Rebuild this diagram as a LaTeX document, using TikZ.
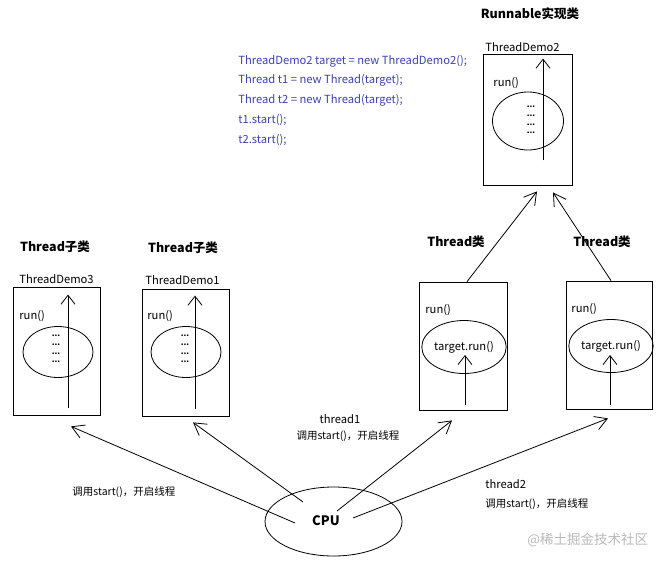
\documentclass[tikz,border=0pt]{standalone}
\usepackage{fontspec}
\setmainfont{Noto Sans CJK SC}
\usetikzlibrary{positioning,arrows.meta,calc,shapes.geometric}
\definecolor{codeblue}{RGB}{60,64,180}
\definecolor{markgray}{RGB}{185,185,185}

\begin{document}
\begin{tikzpicture}[x=1pt,y=-1pt,line width=0.8pt,
  classbox/.style={draw,rectangle,minimum width=87pt,minimum height=128pt,inner sep=0pt},
  runoval/.style={draw,ellipse,minimum width=70pt,minimum height=52pt,inner sep=0pt},
  title/.style={font=\fontsize{12.5}{14}\selectfont\bfseries},
  label/.style={font=\fontsize{11.2}{13}\selectfont,anchor=west,inner sep=0pt},
  note/.style={font=\fontsize{10.5}{12}\selectfont,inner sep=0pt},
  code/.style={font=\fontsize{11.2}{13}\selectfont,text=codeblue,anchor=west,inner sep=0pt},
  dots/.style={font=\fontsize{8}{8.7}\selectfont\bfseries,align=center,inner sep=0pt},
  flow/.style={-{Straight Barb[length=9pt,width=14pt]}},
  call/.style={-{Straight Barb[length=12pt,width=14pt]}}]
\useasboundingbox (0,0) rectangle (667,563);

% Thread subclasses
\node[title] (t3) at (55,247) {Thread子类};
\node[label] (n3) at (19,279) {ThreadDemo3};
\node[classbox] (td3) at (56.5,351) {};
\node[label] (r3) at (19,316) {run()};
\node[runoval,minimum height=51pt] (e3) at (58,352) {};
\node[dots] at (56,349) {...\\...\\...\\...};
\draw[flow] ([shift={(11.5,-7)}]td3.south) -- ([shift={(11.5,8)}]td3.north);

\node[title] (t1) at (183,248) {Thread子类};
\node[label] (n1) at (145,280) {ThreadDemo1};
\node[classbox,minimum height=127pt] (td1) at (185.5,352.5) {};
\node[label] (r1) at (147,316) {run()};
\node[runoval,minimum height=51pt] (e1) at (186,352) {};
\node[dots] at (185,349) {...\\...\\...\\...};
\draw[flow] ([shift={(9.5,-7)}]td1.south) -- ([shift={(9.5,7)}]td1.north);

% Runnable implementation
\node[title] (t2) at (530,14) {Runnable实现类};
\node[label] (n2) at (485,47) {ThreadDemo2};
\node[classbox,minimum width=89pt,minimum height=131pt] (td2) at (527.5,119.5) {};
\node[label] (r2) at (493,83) {run()};
\node[runoval,minimum width=71pt,minimum height=58pt] (e2) at (528,121) {};
\node[dots] at (531,120) {...\\...\\...\\...};
\draw[flow] ([shift={(15.5,-25)}]td2.south) -- ([shift={(15.5,5)}]td2.north);

% code
\node[code] at (238,61) {ThreadDemo2 target = new ThreadDemo2();};
\node[code] at (238,80) {Thread t1 = new Thread(target);};
\node[code] at (238,100) {Thread t2 = new Thread(target);};
\node[code] at (238,120) {t1.start();};
\node[code] at (238,140) {t2.start();};

% Thread objects
\node[title] (ta) at (456,242) {Thread类};
\node[classbox,minimum width=88pt] (tb1) at (463,346) {};
\node[label] (ra) at (425,310) {run()};
\node[runoval,minimum width=68pt,minimum height=53pt,font=\fontsize{11.2}{13}\selectfont] (eb1) at (464,347) {target.run()};
\draw[flow] ([shift={(2,-5)}]tb1.south) -- ([shift={(1,8)}]eb1.center);

\node[title] (tb) at (602,242) {Thread类};
\node[classbox,minimum width=86pt] (tb2) at (609,345) {};
\node[label] (rb) at (571,309) {run()};
\node[runoval,minimum width=69pt,minimum height=53pt,font=\fontsize{11.2}{13}\selectfont] (eb2) at (611,346) {target.run()};
\draw[flow] ([shift={(1,-4)}]tb2.south) -- ([shift={(-1,9)}]eb2.center);

\draw[call] ([shift={(4,0)}]tb1.north) -- ([shift={(9.5,6)}]td2.south);
\draw[call] ([shift={(2,0)}]tb2.north) -- ([shift={(25.5,7)}]td2.south);

% CPU
\node[draw,ellipse,minimum width=137pt,minimum height=69pt,inner sep=0pt] (cpu) at (333.5,521.5) {};
\node[font=\fontsize{13}{15}\selectfont\bfseries] at (326,521) {CPU};
\draw[call] ([shift={(-38.5,1.5)}]cpu.center) -- ([shift={(14.5,11)}]td3.south);
\draw[call] ([shift={(-30.5,-19.5)}]cpu.center) -- ([shift={(7.5,6)}]td1.south);
\draw[call] ([shift={(3.5,-10.5)}]cpu.center) -- ([shift={(-11,10)}]tb1.south);
\draw[call] ([shift={(19.5,-3.5)}]cpu.center) -- ([shift={(-1,9)}]tb2.south);

\node[note,font=\fontsize{11.2}{13}\selectfont] at (340,419) {thread1};
\node[note] at (348,436) {调用start()，开启线程};
\node[note,anchor=west] at (72,492) {调用start()，开启线程};
\node[label] at (485,484) {thread2};
\node[note,anchor=west] at (485,504) {调用start()，开启线程};
\node[note,anchor=west,font=\fontsize{13.5}{15}\selectfont,text=markgray] at (527,540) {@稀土掘金技术社区};
\end{tikzpicture}
\end{document}
